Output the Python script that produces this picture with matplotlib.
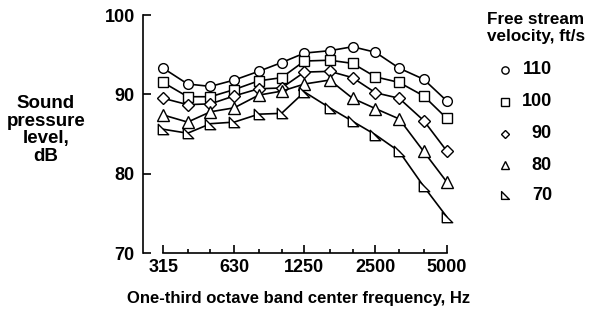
import matplotlib as mpl
mpl.use('Agg')
import matplotlib.pyplot as plt
from matplotlib.lines import Line2D
from matplotlib.path import Path
from matplotlib.ticker import FixedLocator, FixedFormatter, NullFormatter
import numpy as np

plt.rcParams['font.family'] = ['Liberation Sans', 'DejaVu Sans']
plt.rcParams['font.weight'] = 'bold'

# one-third octave band centre frequencies, Hz
FREQ = [315, 400, 500, 630, 800, 1000, 1250, 1600, 2000, 2500, 3150, 4000, 5000]
FREQ_LABELS = [315, 630, 1250, 2500, 5000]

# sound pressure level, dB, one list per free stream velocity (ft/s)
SPL_110 = [93.3, 91.3, 91.0, 91.8, 92.9, 94.0, 95.2, 95.5, 96.0, 95.3, 93.3, 91.9, 89.2]
SPL_100 = [91.5, 89.7, 89.7, 90.6, 91.7, 92.1, 94.2, 94.3, 93.9, 92.2, 91.5, 89.8, 87.0]
SPL_90 = [89.5, 88.7, 88.8, 89.8, 90.7, 90.8, 92.8, 92.9, 92.1, 90.2, 89.5, 86.7, 82.9]
SPL_80 = [87.4, 86.5, 87.8, 88.3, 89.9, 90.4, 91.3, 91.8, 89.5, 88.2, 86.9, 82.8, 79.0]
SPL_70 = [85.6, 85.1, 86.3, 86.5, 87.5, 87.6, 90.3, 88.3, 86.6, 84.9, 82.8, 78.4, 74.6]

VELOCITIES = ['110', '100', '90', '80', '70']

# right triangle, corner at lower left
RTRI = Path([(-1, -1), (1, -1), (-1, 1), (-1, -1)],
            [Path.MOVETO, Path.LINETO, Path.LINETO, Path.CLOSEPOLY])

STYLES = [('o', 7.0), ('s', 6.8), ('D', 6.0), ('^', 8.0), (RTRI, 7.5)]


fig = plt.figure(figsize=(5.95, 3.12), dpi=100)
ax = fig.add_axes([143 / 595, 1 - 253 / 312, (456 - 143) / 595, (253 - 15) / 312])

for spl, (mk, ms) in zip([SPL_110, SPL_100, SPL_90, SPL_80, SPL_70], STYLES):
    ax.plot(FREQ, spl, '-', color='black', lw=1.2, marker=mk, ms=ms,
            mfc='white', mec='black', mew=1.0, zorder=3)

ax.set_xscale('log')
ax.set_xlim(315 / 2 ** (0.85 / 3), 5000 * 2 ** (0.4 / 3))
ax.set_ylim(70, 100)

ax.spines['top'].set_visible(False)
ax.spines['right'].set_visible(False)
ax.spines['bottom'].set_bounds(315, 5000)
for s in ('left', 'bottom'):
    ax.spines[s].set_linewidth(1.2)

ax.xaxis.set_major_locator(FixedLocator(FREQ_LABELS))
ax.xaxis.set_major_formatter(FixedFormatter([str(f) for f in FREQ_LABELS]))
ax.xaxis.set_minor_locator(FixedLocator([f for f in FREQ if f not in FREQ_LABELS]))
ax.xaxis.set_minor_formatter(NullFormatter())
ax.set_yticks([70, 80, 90, 100])

ax.tick_params(axis='both', which='major', direction='in', length=6, width=1.2,
               labelsize=13, pad=4)
ax.tick_params(axis='x', which='minor', direction='in', length=3, width=1.2)
ax.tick_params(axis='y', pad=6)

fig.text(46 / 595, 1 - 130 / 312, 'Sound\npressure\nlevel,\ndB', ha='center',
         va='center', fontsize=13.5, fontweight='bold', linespacing=1.05)
fig.text(299 / 595, 1 - 298 / 312, 'One-third octave band center frequency, Hz',
         ha='center', va='center', fontsize=12, fontweight='bold')

# legend drawn by hand
fig.text(536 / 595, 1 - 28 / 312, 'Free stream\nvelocity, ft/s', ha='center',
         va='center', fontsize=12.3, fontweight='bold', linespacing=1.2)
rows = [70, 102, 134, 165, 195]
for (mk, ms), lab, yy in zip(STYLES, VELOCITIES, rows):
    fig.add_artist(Line2D([505 / 595], [1 - yy / 312], transform=fig.transFigure,
                          marker=mk, ms=ms * 0.75, mfc='white', mec='black', mew=1.0,
                          ls='none'))
    fig.text(552 / 595, 1 - yy / 312, lab, ha='right', va='center',
             fontsize=13, fontweight='bold')

fig.savefig('out.png', dpi=100)
